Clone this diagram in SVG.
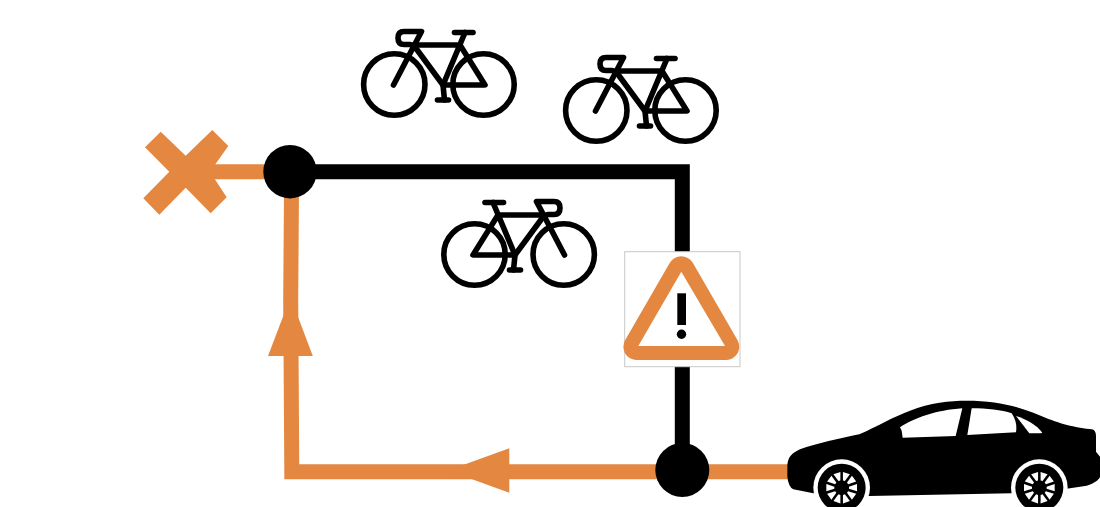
<svg xmlns="http://www.w3.org/2000/svg" width="1100" height="507" viewBox="0 0 1100 507">
<style>
.o{fill:none;stroke:#e48741;stroke-width:15;stroke-linejoin:miter}
.k{fill:none;stroke:#000;stroke-width:15;stroke-linejoin:miter}
.of{fill:#e48741}
.hub{fill:#000}
.b{fill:none;stroke:#000;stroke-width:5.6;stroke-linecap:round;stroke-linejoin:round}
.ring{fill:#fff}
.w{fill:#fff}
</style>
<defs>
<g id="bike" class="b">
<circle cx="394.3" cy="84.5" r="30.7"/>
<circle cx="483.5" cy="84.5" r="30.7"/>
<path d="M393.5,85 L421.5,31.5 H404 Q398,31.5 398,38 Q398,44.5 404,44.5 H410"/>
<path d="M413,45 H460 L485,85 H443 L465,32.5"/>
<path d="M415,47 L443,85 L444.5,100"/>
<path d="M454.5,32.5 H473"/>
<path d="M437.5,100 H448.5"/>
</g>
<polygon id="wedge" class="w" points="-3,-22 3,-22 11,-46 -11,-46"/>
<g id="wheel">
<circle class="ring" r="85"/>
<circle class="hub" r="72"/>
<use href="#wedge" transform="rotate(18)"/>
<use href="#wedge" transform="rotate(54)"/>
<use href="#wedge" transform="rotate(90)"/>
<use href="#wedge" transform="rotate(126)"/>
<use href="#wedge" transform="rotate(162)"/>
<use href="#wedge" transform="rotate(198)"/>
<use href="#wedge" transform="rotate(234)"/>
<use href="#wedge" transform="rotate(270)"/>
<use href="#wedge" transform="rotate(306)"/>
<use href="#wedge" transform="rotate(342)"/>
</g>
</defs>
<g id="connectors">
<path class="k" d="M290,171.7 H682.3 V470"/>
<path class="o" d="M790,471.8 H291.8 L290.7,300 L291.5,190"/>
<path class="o" d="M205,171.7 H290"/>
<polygon class="of" points="290.5,297 312.8,356 268,356"/>
<polygon class="of" points="448,470.5 509.3,448.3 509.3,492.7"/>
</g>
<g id="node-x"><polygon class="of" points="160.7,131.7 185.7,155.7 212.3,130 228.3,146 210,171.7 226.7,197.3 210.7,213.3 185.7,187.7 159.3,214.7 143.3,198.3 169.3,171.7 145,147.3"/></g>
<g id="node-top"><circle class="hub" cx="290" cy="171.7" r="26.7"/></g>
<g id="node-bottom"><circle class="hub" cx="682.3" cy="470" r="27"/></g>
<g id="bike-1"><use href="#bike"/></g>
<g id="bike-2"><use href="#bike" transform="translate(202,26)"/></g>
<g id="bike-3"><use href="#bike" transform="translate(958,170) scale(-1,1)"/></g>
<g id="warning">
<rect x="624.7" y="251.7" width="115.3" height="115" fill="#fff" stroke="#c8c8c8" stroke-width="1"/>
<polygon points="681.3,269.5 636.7,346.7 726,346.7" fill="#e48741" stroke="#e48741" stroke-width="26.5" stroke-linejoin="round"/>
<polygon points="681.3,271.7 638.3,346 725,346" fill="#fff"/>
<rect x="677.3" y="293.3" width="8.7" height="31.7" fill="#000"/>
<circle class="hub" cx="681.5" cy="334.3" r="4.7"/>
</g>
<g id="car" transform="translate(780,390) scale(0.33333)">
<path class="hub" d="M22,225 C25,200 35,190 60,178 C110,160 180,145 238,133 C290,110 340,80 390,62 C450,38 510,32 560,32 C640,32 700,45 760,68 C810,88 850,108 935,118 C945,120 948,128 948,140 L948,185 L960,200 L960,262 C955,270 945,280 920,287 L850,298 L695,310 L268,318 L100,310 L40,298 Q25,290 22,260 Z"/>
<use href="#wheel" transform="translate(185,293)"/>
<use href="#wheel" transform="translate(778,293)"/>
<path fill="#fff" d="M360,112 C400,85 470,60 547,55 L527,138 L368,143 L365,122 Z"/>
<path fill="#fff" d="M575,55 C620,55 665,60 695,70 C705,85 712,105 708,127 L562,135 Z"/>
<path fill="#fff" d="M708,78 C740,88 770,105 787,128 L782,130 L748,130 Z"/>
</g>
</svg>
